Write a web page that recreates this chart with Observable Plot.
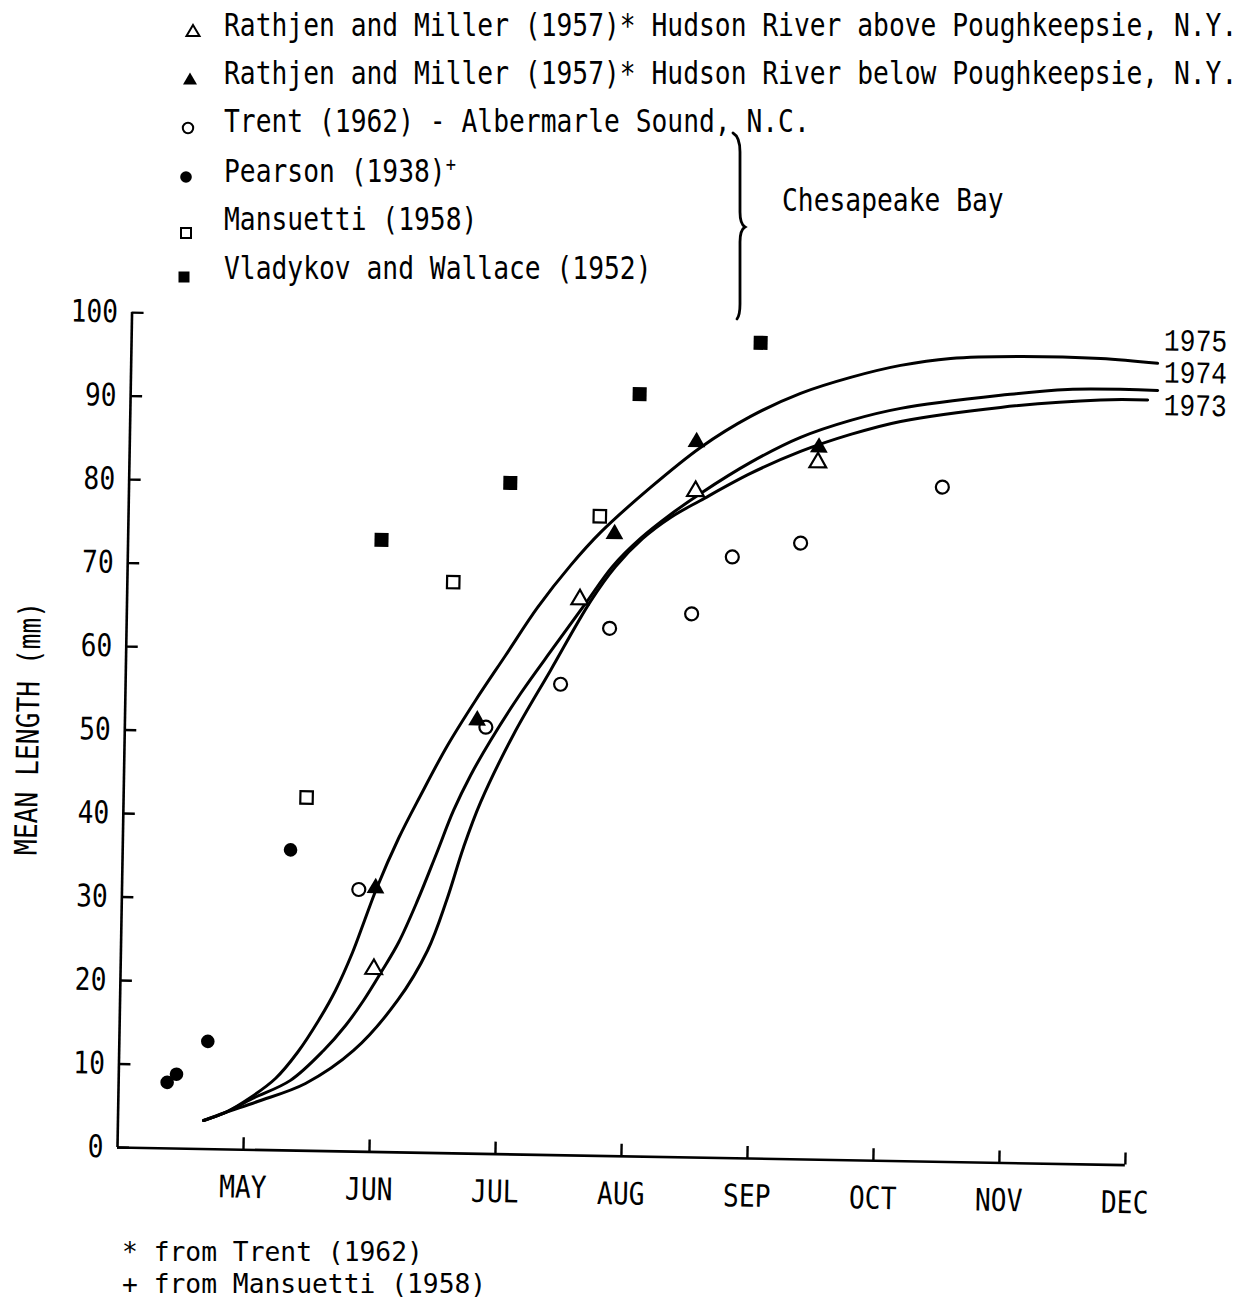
<!DOCTYPE html>
<html>
<head>
<meta charset="utf-8">
<script src="https://cdn.jsdelivr.net/npm/d3@7"></script>
<script src="https://cdn.jsdelivr.net/npm/@observablehq/plot@0.6"></script>
<style>
  body { margin: 0; background: #fff; }
  #fig { position: relative; width: 1248px; height: 1303px; overflow: hidden; background: #fff; color: #000;
         font-family: "DejaVu Sans Mono", monospace; }
  #plotwrap { position: absolute; left: 0; top: 280px; }
  .row { position: absolute; left: 0; width: 1248px; height: 40px; }
  .txt { position: absolute; top: 0; line-height: 40px; font-size: 26.3px; white-space: pre;
         transform: scaleY(1.18); transform-origin: 0 50%; }
  .note { transform: none; line-height: 31px; }
  .txt sup { font-size: 17px; vertical-align: 9px; line-height: 0; }
  .sym { position: absolute; width: 20px; height: 20px; }
  #brace { position: absolute; left: 700px; top: 110px; }
</style>
</head>
<body>
<div id="fig">
  <div id="plotwrap"></div>
  <div id="legend"></div>
  <svg id="brace" width="80" height="230" viewBox="700 110 80 230">
    <path d="M733,133 Q740,137 740,152 L740,212 Q740,224 745,227 Q740,230 740,242 L740,304 Q740,315 737,319"
          fill="none" stroke="#000" stroke-width="2.8" stroke-linecap="round"/>
  </svg>
  <div id="notes"></div>
</div>
<script>
// ---------- axis ticks ----------
const months = ["MAY", "JUN", "JUL", "AUG", "SEP", "OCT", "NOV", "DEC"];
const monthTicks = [1, 2, 3, 4, 5, 6, 7, 8];           // months after 1 April
const lengthTicks = [0, 10, 20, 30, 40, 50, 60, 70, 80, 90, 100];

// ---------- observed points (month after 1 April, mean length mm) ----------
const hudsonAboveMonth  = [2.009, 3.593, 4.496, 5.463];
const hudsonAboveLength = [21.9, 66.6, 79.8, 83.5];
const hudsonBelowMonth  = [2.012, 2.795, 3.859, 4.497, 5.469];
const hudsonBelowLength = [31.6, 51.9, 74.5, 85.7, 85.3];
const trentMonth  = [1.879, 2.865, 3.452, 3.833, 4.482, 4.797, 5.337, 6.454];
const trentLength = [31.4, 51.1, 56.4, 63.2, 65.1, 72.0, 73.8, 80.8];
const pearsonMonth  = [0.385, 0.458, 0.702, 1.332];
const pearsonLength = [7.9, 8.9, 12.9, 36.0];
const mansuettiMonth  = [1.452, 2.586, 3.740];
const mansuettiLength = [42.3, 68.4, 76.6];
const vladykovMonth  = [2.011, 3.025, 4.039, 4.992];
const vladykovLength = [73.3, 80.4, 91.3, 97.7];

// ---------- growth curves ----------
const curveYears = ["1975", "1974", "1973"];
const curve1975Month  = [0.679, 0.852, 1.049, 1.244, 1.415, 1.578, 1.708, 1.838, 1.929, 2.020, 2.187, 2.356, 2.563, 2.779, 3.011, 3.259, 3.515, 3.748, 4.139, 4.530, 4.923, 5.316, 5.711, 6.106, 6.502, 7.033, 7.692, 8.145];
const curve1975Length = [3.41, 4.42, 6.27, 8.59, 11.75, 15.63, 19.26, 23.84, 27.70, 31.56, 37.59, 42.79, 48.83, 54.28, 59.73, 65.55, 70.65, 74.66, 80.16, 85.05, 88.87, 91.73, 93.75, 95.29, 96.23, 96.61, 96.54, 96.07];
const curve1974Month  = [0.679, 0.852, 1.065, 1.363, 1.622, 1.793, 1.932, 2.071, 2.202, 2.347, 2.491, 2.620, 2.750, 2.904, 3.136, 3.391, 3.639, 3.848, 4.066, 4.301, 4.536, 4.929, 5.322, 5.717, 6.112, 6.904, 7.435, 8.149];
const curve1974Length = [3.41, 4.42, 6.15, 8.40, 12.05, 15.09, 18.12, 21.63, 25.14, 30.21, 35.88, 41.06, 45.29, 49.52, 55.21, 60.79, 66.13, 70.62, 74.03, 76.96, 79.54, 83.36, 86.46, 88.60, 90.14, 91.91, 92.76, 92.83];
const curve1973Month  = [0.679, 0.852, 1.105, 1.483, 1.860, 2.202, 2.433, 2.577, 2.704, 2.833, 3.086, 3.370, 3.678, 3.872, 4.082, 4.302, 4.537, 4.930, 5.324, 5.719, 6.114, 6.905, 7.698, 8.071];
const curve1973Length = [3.41, 4.42, 5.80, 8.06, 12.11, 18.19, 24.24, 30.27, 36.65, 42.08, 50.29, 58.03, 66.38, 70.60, 74.00, 76.60, 78.70, 82.04, 84.78, 86.92, 88.58, 90.47, 91.57, 91.67];

// ---------- texts ----------
const legendLabels = [
  "Rathjen and Miller (1957)* Hudson River above Poughkeepsie, N.Y.",
  "Rathjen and Miller (1957)* Hudson River below Poughkeepsie, N.Y.",
  "Trent (1962) - Albermarle Sound, N.C.",
  "Pearson (1938)",
  "Mansuetti (1958)",
  "Vladykov and Wallace (1952)"
];
const legendSup = ["", "", "", "+", "", ""];
const legendSymbols = ["triOpen", "triFill", "circOpen", "circFill", "sqOpen", "sqFill"];
const bayLabel = "Chesapeake Bay";
const yTitle = "MEAN LENGTH (mm)";
const footnotes = ["* from Trent (1962)", "+ from Mansuetti (1958)"];

// ---------- build tables ----------
const zip = (xs, ys, extra) => xs.map((m, i) => ({month: m, length: ys[i], ...extra}));
const curveRows = [
  ...zip(curve1975Month, curve1975Length, {year: curveYears[0]}),
  ...zip(curve1974Month, curve1974Length, {year: curveYears[1]}),
  ...zip(curve1973Month, curve1973Length, {year: curveYears[2]})
];
const lastOf = (y) => curveRows.filter(d => d.year === y).slice(-1);
const dotOpts = (extra) => ({x: "month", y: "length", ...extra});
const labelFont = '"Liberation Mono", monospace';

const plot = Plot.plot({
  width: 1248, height: 950,
  marginLeft: 117, marginRight: 123, marginTop: 32, marginBottom: 83,
  x: {domain: [0, 8]},
  y: {domain: [0, 100]},
  style: {fontFamily: '"DejaVu Sans Mono", monospace', fontSize: "26.3px", background: "transparent", color: "#000", overflow: "visible"},
  marks: [
    Plot.ruleX([0], {stroke: "#000", strokeWidth: 2.6}),
    Plot.ruleY([0], {stroke: "#000", strokeWidth: 2.6}),
    Plot.axisY({ticks: lengthTicks, tickSize: -12, tickPadding: 26, label: null, strokeWidth: 2.4, tickFormat: d => String(d)}),
    Plot.axisX({ticks: monthTicks, tickFormat: d => months[d - 1], tickSize: -12, tickPadding: 38, label: null, strokeWidth: 2.4}),
    Plot.text([yTitle], {text: d => d, frameAnchor: "left", textAnchor: "middle", rotate: -90, dx: -96}),
    Plot.line(curveRows, {x: "month", y: "length", z: "year", curve: "catmull-rom", stroke: "#000", strokeWidth: 3}),
    Plot.dot(zip(pearsonMonth, pearsonLength), dotOpts({symbol: "circle", r: 6.8, fill: "#000"})),
    Plot.dot(zip(vladykovMonth, vladykovLength), dotOpts({symbol: "square", r: 7.9, fill: "#000"})),
    Plot.dot(zip(mansuettiMonth, mansuettiLength), dotOpts({symbol: "square", r: 7, fill: "#fff", stroke: "#000", strokeWidth: 2.2})),
    Plot.dot(zip(trentMonth, trentLength), dotOpts({symbol: "circle", r: 6.5, fill: "#fff", stroke: "#000", strokeWidth: 2.2})),
    Plot.dot(zip(hudsonAboveMonth, hudsonAboveLength), dotOpts({symbol: "triangle", r: 6.2, fill: "#fff", stroke: "#000", strokeWidth: 2.2})),
    Plot.dot(zip(hudsonBelowMonth, hudsonBelowLength), dotOpts({symbol: "triangle", r: 6.6, fill: "#000"})),
    Plot.text(lastOf("1975"), {x: "month", y: "length", text: "year", textAnchor: "start", dx: 6, dy: -23, fontFamily: labelFont}),
    Plot.text(lastOf("1974"), {x: "month", y: "length", text: "year", textAnchor: "start", dx: 6, dy: -18, fontFamily: labelFont}),
    Plot.text(lastOf("1973"), {x: "month", y: "length", text: "year", textAnchor: "start", dx: 16, dy: 5, fontFamily: labelFont})
  ]
});

// condensed typewriter look: stretch glyphs vertically
plot.querySelectorAll("text").forEach(t => {
  const tr = t.getAttribute("transform");
  if (tr) t.setAttribute("transform", tr + " scale(1,1.18)");
});
// the scanned figure is tilted by about one degree around the axis corner
plot.style.transformOrigin = "117px 867px";
plot.style.transform = "rotate(1deg)";
document.getElementById("plotwrap").appendChild(plot);

// ---------- legend ----------
const symbolSvg = {
  triOpen:  '<polygon points="10,4 16.5,15 3.5,15" fill="#fff" stroke="#000" stroke-width="2"/>',
  triFill:  '<polygon points="10,3.5 17,15.5 3,15.5" fill="#000"/>',
  circOpen: '<circle cx="10" cy="10" r="5.2" fill="#fff" stroke="#000" stroke-width="2"/>',
  circFill: '<circle cx="10" cy="10" r="5.8" fill="#000"/>',
  sqOpen:   '<rect x="5" y="5" width="10" height="10" fill="#fff" stroke="#000" stroke-width="2"/>',
  sqFill:   '<rect x="4.5" y="4.5" width="11" height="11" fill="#000"/>'
};
const rowCenters = [25, 73, 121, 171, 219, 268];
const symX = [193, 190, 188, 186, 186, 184];
const symY = [31, 79, 128, 177, 233, 277];
const legend = document.getElementById("legend");
legendLabels.forEach((lab, i) => {
  const row = document.createElement("div");
  row.className = "row";
  row.style.top = (rowCenters[i] - 20) + "px";
  const t = document.createElement("div");
  t.className = "txt";
  t.style.left = "224px";
  t.textContent = lab;
  if (legendSup[i]) { const s = document.createElement("sup"); s.textContent = legendSup[i]; t.appendChild(s); }
  row.appendChild(t);
  legend.appendChild(row);
  const sv = document.createElementNS("http://www.w3.org/2000/svg", "svg");
  sv.setAttribute("class", "sym");
  sv.setAttribute("viewBox", "0 0 20 20");
  sv.style.left = (symX[i] - 10) + "px";
  sv.style.top = (symY[i] - 10) + "px";
  sv.innerHTML = symbolSvg[legendSymbols[i]];
  legend.appendChild(sv);
});
const bay = document.createElement("div");
bay.className = "row";
bay.style.top = (200 - 20) + "px";
bay.innerHTML = '<div class="txt" style="left:782px"></div>';
bay.firstChild.textContent = bayLabel;
legend.appendChild(bay);

// ---------- footnotes ----------
const notes = document.getElementById("notes");
const noteCenters = [1252, 1284];
footnotes.forEach((n, i) => {
  const row = document.createElement("div");
  row.className = "row";
  row.style.top = (noteCenters[i] - 15.5) + "px";
  row.style.height = "31px";
  const t = document.createElement("div");
  t.className = "txt note";
  t.style.left = "122px";
  t.textContent = n;
  row.appendChild(t);
  notes.appendChild(row);
});
</script>
</body>
</html>
